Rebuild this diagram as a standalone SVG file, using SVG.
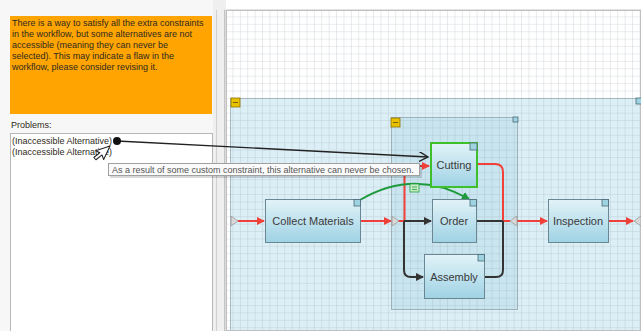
<svg xmlns="http://www.w3.org/2000/svg" width="641" height="331" viewBox="0 0 641 331">
<defs>
<style>
.ui{font-family:"Liberation Sans",Arial,sans-serif;font-size:9px;fill:#2e2a20}
.lbl{font-family:"Liberation Sans",Arial,sans-serif;font-size:11px;fill:#3a3a3a;text-anchor:middle}
.node{fill:url(#ng);stroke:#6b8793;stroke-width:1}
.corner{fill:#9fd3e2;stroke:#4a6a76;stroke-width:0.8}
.red{fill:none;stroke:#f0403a;stroke-width:2}
.blk{fill:none;stroke:#333;stroke-width:2}
.tri{fill:#d8d8d8;stroke:#9a9a9a;stroke-width:0.8}
.yicon{fill:#e8c200;stroke:#8a7000;stroke-width:0.8}
</style>
<linearGradient id="ng" x1="0" y1="0" x2="0" y2="1">
<stop offset="0" stop-color="#e2f3f8"/>
<stop offset="1" stop-color="#9fd2e4"/>
</linearGradient>
<pattern id="grid" x="226" y="10" width="7.4" height="7.4" patternUnits="userSpaceOnUse">
<path d="M7.4 0V7.4H0" fill="none" stroke="#8f9ca3" stroke-opacity="0.4" stroke-width="1"/>
</pattern>
<marker id="ar" viewBox="0 0 8 8" refX="7" refY="4" markerWidth="4" markerHeight="4" orient="auto">
<path d="M0 0L8 4L0 8z" fill="#f0403a"/>
</marker>
<marker id="ab" viewBox="0 0 8 8" refX="7" refY="4" markerWidth="4" markerHeight="4" orient="auto">
<path d="M0 0L8 4L0 8z" fill="#333"/>
</marker>
<marker id="ag" viewBox="0 0 8 8" refX="7" refY="4" markerWidth="4" markerHeight="4" orient="auto">
<path d="M0 0L8 4L0 8z" fill="#1e9a3c"/>
</marker>
<marker id="av" viewBox="0 0 10 10" refX="9" refY="5" markerWidth="10" markerHeight="10" markerUnits="userSpaceOnUse" orient="auto">
<path d="M0 0L9 5L0 10" fill="none" stroke="#222" stroke-width="1.4"/>
</marker>
</defs>

<!-- background -->
<rect x="0" y="0" width="641" height="331" fill="#ffffff"/>
<rect x="0" y="0" width="226" height="331" fill="#f7f7f7"/>

<!-- left panel -->
<g id="message">
<rect x="10" y="16" width="202" height="98" fill="#ffa400"/>
<text class="ui" x="12" y="26">There is a way to satisfy all the extra constraints</text>
<text class="ui" x="12" y="37">in the workflow, but some alternatives are not</text>
<text class="ui" x="12" y="48">accessible (meaning they can never be</text>
<text class="ui" x="12" y="59">selected). This may indicate a flaw in the</text>
<text class="ui" x="12" y="70">workflow, please consider revising it.</text>
</g>
<g id="problems">
<text class="ui" x="11" y="128">Problems:</text>
<rect x="10.5" y="133.5" width="202" height="200" fill="#ffffff" stroke="#b8b8b8"/>
<text class="ui" x="12" y="144">(Inaccessible Alternative)</text>
<text class="ui" x="12" y="155">(Inaccessible Alternative)</text>
</g>

<!-- splitter -->
<rect x="213" y="0" width="13" height="331" fill="#efefef"/>
<line x1="216.5" y1="10" x2="216.5" y2="331" stroke="#d0d0d0"/>
<line x1="224.5" y1="10" x2="224.5" y2="331" stroke="#c4c4c4"/>

<!-- canvas -->
<rect x="226" y="10" width="415" height="321" fill="#ffffff" stroke="#c8c8c8"/>
<g id="group-outer">
<rect x="230.5" y="98.5" width="420" height="240" fill="#dceff6" stroke="#a9bcc4"/>
</g>
<g id="group-inner">
<rect x="391.5" y="117.5" width="126" height="192" fill="#c9e5ef" stroke="#9fb2ba"/>
</g>
<rect x="226" y="10" width="415" height="321" fill="url(#grid)"/>
<rect x="226.5" y="10.5" width="414" height="320" fill="none" stroke="#c0c0c0"/>
<rect class="yicon" x="231" y="98" width="9" height="9"/>
<line x1="233" y1="102.5" x2="238" y2="102.5" stroke="#7a6000"/>
<rect class="corner" x="636" y="98" width="6" height="6"/>
<rect class="yicon" x="391" y="118" width="9" height="9"/>
<line x1="393" y1="122.5" x2="398" y2="122.5" stroke="#7a6000"/>
<rect class="corner" x="513" y="117" width="5" height="5"/>

<!-- connectors -->
<g id="connectors">
<path class="red" d="M238 221H264" marker-end="url(#ar)"/>
<path class="red" d="M360 221H391" marker-end="url(#ar)"/>
<path class="red" d="M398 221H405"/>
<path class="red" d="M404.5 221V166H429" marker-end="url(#ar)"/>
<path class="red" d="M478 164H495Q503 164 503 172V221H510"/>
<path class="red" d="M517 221H547" marker-end="url(#ar)"/>
<path class="red" d="M609 221H633" marker-end="url(#ar)"/>
<path class="blk" d="M404 221H431" marker-end="url(#ab)"/>
<path class="blk" d="M404 221V270Q404 277 411 277H423" marker-end="url(#ab)"/>
<path class="blk" d="M476 221H503"/>
<path class="blk" d="M484 277H496Q503 277 503 270V221"/>
<path d="M360 200Q414 168 469 199" fill="none" stroke="#1e9a3c" stroke-width="2" marker-end="url(#ag)"/>
<rect x="410" y="184" width="9" height="8" fill="#c6ecc8" stroke="#2aa040" stroke-width="0.8"/>
<path d="M412 187H417M412 189.5H417" stroke="#2aa040" stroke-width="0.8"/>
<polygon class="tri" points="231,216 238,221 231,226"/>
<polygon class="tri" points="392,216 399,221 392,226"/>
<polygon class="tri" points="517,216 510,221 517,226"/>
<polygon class="tri" points="641,216 634,221 641,226"/>
</g>

<!-- nodes -->
<g id="collect-materials">
<rect class="node" x="265.5" y="199.5" width="95" height="43"/>
<rect class="corner" x="354" y="199.5" width="6.5" height="6.5"/>
<text class="lbl" x="313" y="225">Collect Materials</text>
</g>
<g id="cutting">
<rect class="node" x="431" y="143" width="46" height="44" style="stroke:#3fc02a;stroke-width:2"/>
<rect class="corner" x="470" y="143" width="7" height="7"/>
<text class="lbl" x="454" y="169">Cutting</text>
</g>
<g id="order">
<rect class="node" x="432.5" y="199.5" width="44" height="43"/>
<rect class="corner" x="470" y="199.5" width="6.5" height="6.5"/>
<text class="lbl" x="454" y="225">Order</text>
</g>
<g id="assembly">
<rect class="node" x="424.5" y="254.5" width="60" height="44"/>
<rect class="corner" x="478" y="254.5" width="6.5" height="6.5"/>
<text class="lbl" x="454" y="281">Assembly</text>
</g>
<g id="inspection">
<rect class="node" x="548.5" y="199.5" width="60" height="43"/>
<rect class="corner" x="602" y="199.5" width="6.5" height="6.5"/>
<text class="lbl" x="578" y="225">Inspection</text>
</g>

<!-- pointer connector from problem to node -->
<g id="problem-link">
<line x1="117" y1="141" x2="428" y2="157" stroke="#222" stroke-width="1.4" marker-end="url(#av)"/>
<circle cx="117" cy="141" r="4" fill="#111"/>
</g>

<!-- tooltip -->
<g id="tooltip">
<rect x="110" y="165" width="312" height="13" fill="#000" opacity="0.15"/>
<rect x="108.5" y="163.5" width="311" height="12" fill="#fafafa" stroke="#a0a0a0"/>
<text class="ui" x="112" y="172.8" style="fill:#555">As a result of some custom constraint, this alternative can never be chosen.</text>
</g>

<!-- cursor -->
<g id="cursor" transform="translate(110 146) rotate(25) scale(-1.15 1.15)">
<polygon points="0,0 0,13 3,10 6,16 8.5,15 5.5,9 9.5,9" fill="#fff" stroke="#222" stroke-width="0.9" stroke-linejoin="round"/>
</g>
</svg>
